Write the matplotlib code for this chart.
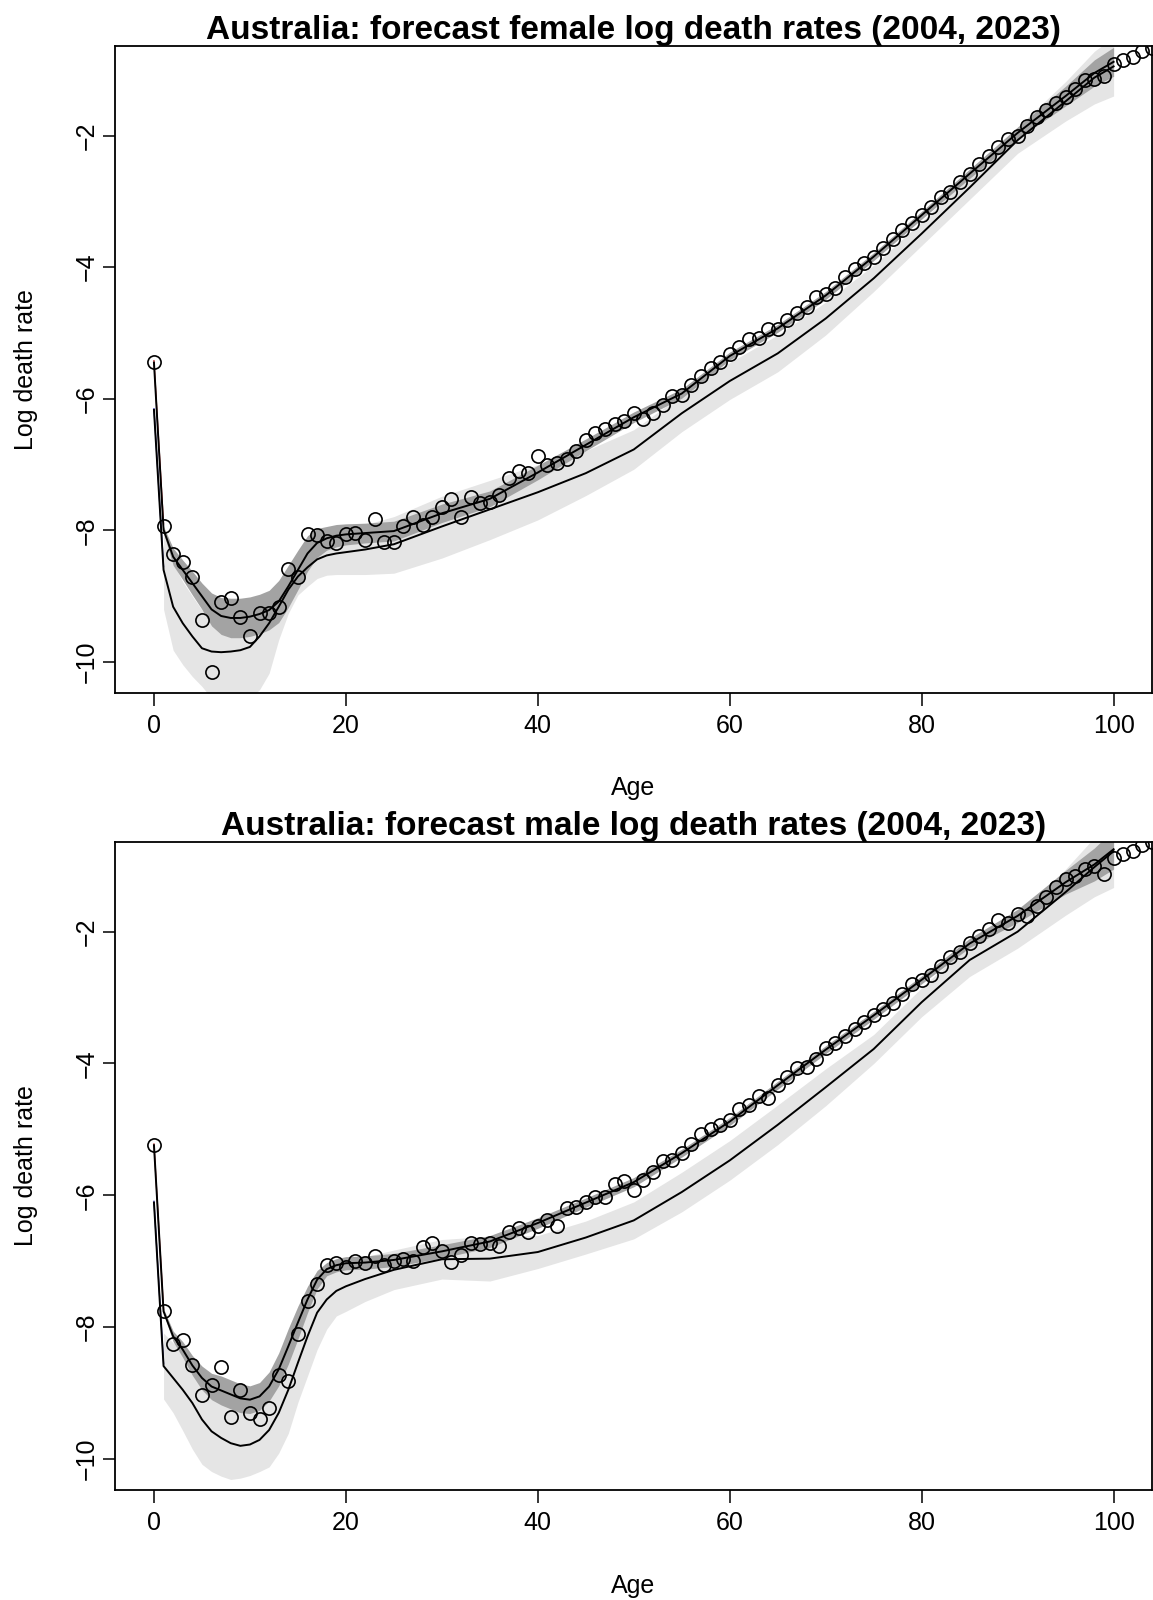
import matplotlib
matplotlib.use("Agg")
import matplotlib.pyplot as plt

plt.rcParams['font.family'] = ['Liberation Sans', 'DejaVu Sans']

# observed log death rates, ages 0..104
obs_ages = list(range(0, 105))
female_obs = [-5.44, -7.93, -8.36, -8.48, -8.71, -9.36, -10.15, -9.08, -9.02, -9.32,
              -9.61, -9.25, -9.26, -9.17, -8.58, -8.71, -8.06, -8.07, -8.16, -8.19,
              -8.06, -8.04, -8.15, -7.83, -8.17, -8.18, -7.93, -7.80, -7.91, -7.80,
              -7.64, -7.53, -7.80, -7.49, -7.59, -7.57, -7.46, -7.21, -7.09, -7.13,
              -6.87, -7.00, -6.97, -6.92, -6.80, -6.63, -6.52, -6.46, -6.39, -6.33,
              -6.22, -6.30, -6.22, -6.09, -5.96, -5.94, -5.79, -5.65, -5.53, -5.44,
              -5.32, -5.22, -5.09, -5.07, -4.94, -4.94, -4.80, -4.69, -4.61, -4.45,
              -4.41, -4.32, -4.15, -4.03, -3.94, -3.84, -3.71, -3.57, -3.44, -3.33,
              -3.21, -3.08, -2.93, -2.86, -2.71, -2.58, -2.43, -2.31, -2.17, -2.05,
              -2.00, -1.86, -1.72, -1.61, -1.51, -1.41, -1.29, -1.15, -1.14, -1.09,
              -0.91, -0.86, -0.80, -0.72, -0.67]
male_obs = [-5.24, -7.76, -8.25, -8.20, -8.58, -9.03, -8.87, -8.61, -9.36, -8.96,
            -9.30, -9.39, -9.22, -8.73, -8.81, -8.10, -7.61, -7.34, -7.06, -7.02,
            -7.09, -7.00, -7.02, -6.92, -7.06, -7.00, -6.97, -7.00, -6.78, -6.73,
            -6.84, -7.01, -6.90, -6.72, -6.74, -6.73, -6.77, -6.56, -6.49, -6.56,
            -6.47, -6.38, -6.46, -6.19, -6.18, -6.10, -6.02, -6.03, -5.83, -5.79,
            -5.92, -5.77, -5.64, -5.48, -5.47, -5.36, -5.22, -5.07, -5.00, -4.94,
            -4.86, -4.69, -4.63, -4.49, -4.52, -4.33, -4.20, -4.07, -4.06, -3.93,
            -3.77, -3.69, -3.58, -3.48, -3.37, -3.26, -3.18, -3.08, -2.95, -2.79,
            -2.74, -2.66, -2.52, -2.39, -2.31, -2.17, -2.06, -1.96, -1.83, -1.87,
            -1.73, -1.76, -1.61, -1.48, -1.32, -1.20, -1.15, -1.05, -1.00, -1.12,
            -0.89, -0.82, -0.77, -0.69, -0.64]

# forecast curves (2004 upper, 2023 lower)
fc_ages = list(range(0, 21)) + [22, 25, 30, 35, 40, 45, 50, 55, 60, 65, 70, 75, 80, 85, 90, 95, 98, 100]
female_2004 = [-5.45, -7.99, -8.40, -8.60, -8.80, -9.00, -9.20, -9.30, -9.33, -9.33,
               -9.31, -9.27, -9.21, -9.08, -8.85, -8.60, -8.35, -8.19, -8.12, -8.08,
               -8.06, -8.04, -8.01, -7.74, -7.52, -7.12, -6.70, -6.28, -5.92, -5.35,
               -4.93, -4.43, -3.84, -3.21, -2.58, -1.96, -1.40, -1.05, -0.88]
female_2023 = [-6.17, -8.60, -9.16, -9.41, -9.61, -9.79, -9.84, -9.85, -9.84, -9.82,
               -9.77, -9.61, -9.41, -9.16, -8.90, -8.70, -8.56, -8.44, -8.38, -8.35,
               -8.33, -8.29, -8.21, -7.94, -7.68, -7.42, -7.13, -6.77, -6.22, -5.73,
               -5.31, -4.78, -4.17, -3.49, -2.79, -2.07, -1.48, -1.12, -0.95]
male_2004 = [-5.24, -7.76, -8.14, -8.34, -8.58, -8.77, -8.90, -8.96, -9.02, -9.08,
             -9.10, -9.05, -8.90, -8.64, -8.29, -7.93, -7.58, -7.28, -7.12, -7.06,
             -7.03, -7.02, -6.98, -6.85, -6.70, -6.42, -6.11, -5.80, -5.36, -4.88,
             -4.33, -3.79, -3.27, -2.73, -2.18, -1.76, -1.25, -0.98, -0.75]
male_2023 = [-6.11, -8.59, -8.77, -8.95, -9.15, -9.40, -9.58, -9.68, -9.76, -9.80,
             -9.78, -9.71, -9.56, -9.30, -8.95, -8.54, -8.14, -7.78, -7.58, -7.45,
             -7.38, -7.27, -7.13, -6.97, -6.96, -6.86, -6.64, -6.38, -5.95, -5.47,
             -4.93, -4.36, -3.78, -3.07, -2.43, -2.00, -1.40, -1.02, -0.78]

# prediction intervals (ages 1..100)
band_ages = fc_ages[1:]
female_dark_lo = [-8.04, -8.53, -8.75, -8.98, -9.20, -9.45, -9.58, -9.63, -9.63, -9.61,
                  -9.57, -9.51, -9.40, -9.17, -8.90, -8.62, -8.41, -8.30, -8.25, -8.22,
                  -8.19, -8.16, -7.88, -7.64, -7.23, -6.79, -6.36, -5.99, -5.41, -4.99,
                  -4.49, -3.90, -3.27, -2.65, -2.05, -1.55, -1.25, -1.10]
female_dark_hi = [-7.94, -8.27, -8.45, -8.62, -8.80, -8.95, -9.02, -9.03, -9.03, -9.01,
                  -8.97, -8.91, -8.76, -8.53, -8.30, -8.08, -7.97, -7.94, -7.91, -7.90,
                  -7.89, -7.86, -7.60, -7.40, -7.01, -6.61, -6.20, -5.85, -5.29, -4.87,
                  -4.37, -3.78, -3.15, -2.51, -1.87, -1.25, -0.85, -0.66]
female_light_lo = [-9.20, -9.82, -10.04, -10.22, -10.37, -10.55, -10.60, -10.60, -10.60, -10.55,
                   -10.42, -10.17, -9.66, -9.26, -8.98, -8.85, -8.73, -8.68, -8.67, -8.67,
                   -8.67, -8.65, -8.42, -8.14, -7.84, -7.47, -7.07, -6.50, -6.01, -5.59,
                   -5.03, -4.37, -3.67, -2.97, -2.27, -1.78, -1.52, -1.40]
female_light_hi = [-8.00, -8.50, -8.78, -9.00, -9.21, -9.19, -9.19, -9.18, -9.16, -9.08,
                   -9.02, -8.97, -8.82, -8.62, -8.46, -8.30, -8.15, -8.08, -8.03, -7.99,
                   -7.91, -7.79, -7.48, -7.24, -7.00, -6.79, -6.47, -5.94, -5.45, -5.03,
                   -4.53, -3.97, -3.31, -2.61, -1.87, -1.18, -0.72, -0.50]
male_dark_lo = [-7.80, -8.22, -8.46, -8.73, -8.95, -9.10, -9.18, -9.24, -9.30, -9.31,
                -9.26, -9.12, -8.89, -8.56, -8.18, -7.78, -7.42, -7.22, -7.16, -7.13,
                -7.12, -7.08, -6.95, -6.79, -6.50, -6.18, -5.87, -5.42, -4.94, -4.39,
                -3.85, -3.33, -2.79, -2.24, -1.86, -1.43, -1.23, -1.05]
male_dark_hi = [-7.72, -8.06, -8.22, -8.43, -8.59, -8.70, -8.74, -8.80, -8.86, -8.89,
                -8.84, -8.68, -8.39, -8.02, -7.68, -7.38, -7.14, -7.02, -6.96, -6.93,
                -6.92, -6.88, -6.75, -6.61, -6.34, -6.04, -5.73, -5.30, -4.82, -4.27,
                -3.73, -3.21, -2.67, -2.10, -1.66, -1.07, -0.73, -0.45]
male_light_lo = [-9.09, -9.30, -9.57, -9.85, -10.08, -10.19, -10.26, -10.31, -10.29, -10.25,
                 -10.19, -10.12, -9.91, -9.61, -9.14, -8.74, -8.34, -8.03, -7.83, -7.76,
                 -7.61, -7.43, -7.27, -7.30, -7.11, -6.89, -6.66, -6.25, -5.77, -5.23,
                 -4.64, -4.00, -3.29, -2.68, -2.25, -1.75, -1.47, -1.33]
male_light_hi = [-8.09, -8.24, -8.33, -8.45, -8.72, -8.97, -9.10, -9.21, -9.31, -9.31,
                 -9.23, -9.00, -8.69, -8.29, -7.94, -7.54, -7.22, -7.13, -7.07, -7.00,
                 -6.93, -6.83, -6.67, -6.62, -6.61, -6.39, -6.10, -5.65, -5.17, -4.63,
                 -4.08, -3.56, -2.85, -2.18, -1.75, -1.05, -0.57, -0.23]

# coloured first segments peeking out under the black curves
tip_ages = [0, 1]
female_red_tip = [-5.42, -7.90]
female_blue_tip = [-6.15, -8.55]
male_red_tip = [-5.22, -7.73]
male_blue_tip = [-6.09, -8.55]

titles = ["Australia: forecast female log death rates (2004, 2023)",
          "Australia: forecast male log death rates (2004, 2023)"]


def draw_panel(ax, title, obs, up, low, dlo, dhi, llo, lhi, red_tip, blue_tip):
    ax.fill_between(band_ages, llo, lhi, color="#E5E5E5", lw=0, zorder=1)
    ax.fill_between(band_ages, dlo, dhi, color="#A3A3A3", lw=0, zorder=2)
    ax.plot(tip_ages, red_tip, color="#B22222", lw=0.9, zorder=3)
    ax.plot(tip_ages, blue_tip, color="#2020A0", lw=0.9, zorder=3)
    ax.plot(fc_ages, up, color="black", lw=1.4, zorder=4)
    ax.plot(fc_ages, low, color="black", lw=1.4, zorder=4)
    ax.plot(obs_ages, obs, ls="none", marker="o", ms=9.5, mfc="none",
            mec="black", mew=1.2, zorder=5)

    ax.set_xlim(-4.06, 104)
    ax.set_ylim(-10.47, -0.64)
    ax.set_xticks([0, 20, 40, 60, 80, 100])
    ax.set_yticks([-10, -8, -6, -4, -2])
    ax.tick_params(axis="both", direction="out", length=9, width=1.1, labelsize=18)
    ax.tick_params(axis="x", pad=6)
    ax.tick_params(axis="y", pad=2.5, labelrotation=90)
    for lab in ax.get_yticklabels():
        lab.set_va("center")
    for sp in ax.spines.values():
        sp.set_linewidth(1.3)

    ax.set_xlabel("Age", fontsize=18)
    ax.xaxis.set_label_coords(0.5, -0.129)
    ax.set_ylabel("Log death rate", fontsize=18)
    ax.yaxis.set_label_coords(-0.074, 0.5)
    ax.set_title(title, fontsize=24, fontweight="bold", pad=4.5)


fig = plt.figure(figsize=(11.53, 16), dpi=100)
ax1 = fig.add_axes([115 / 1153, (1600 - 693) / 1600, 1037 / 1153, 647 / 1600])
ax2 = fig.add_axes([115 / 1153, (1600 - 1490) / 1600, 1037 / 1153, 648 / 1600])

draw_panel(ax1, titles[0], female_obs, female_2004, female_2023,
           female_dark_lo, female_dark_hi, female_light_lo, female_light_hi,
           female_red_tip, female_blue_tip)
draw_panel(ax2, titles[1], male_obs, male_2004, male_2023,
           male_dark_lo, male_dark_hi, male_light_lo, male_light_hi,
           male_red_tip, male_blue_tip)

plt.savefig("out.png", dpi=100)
